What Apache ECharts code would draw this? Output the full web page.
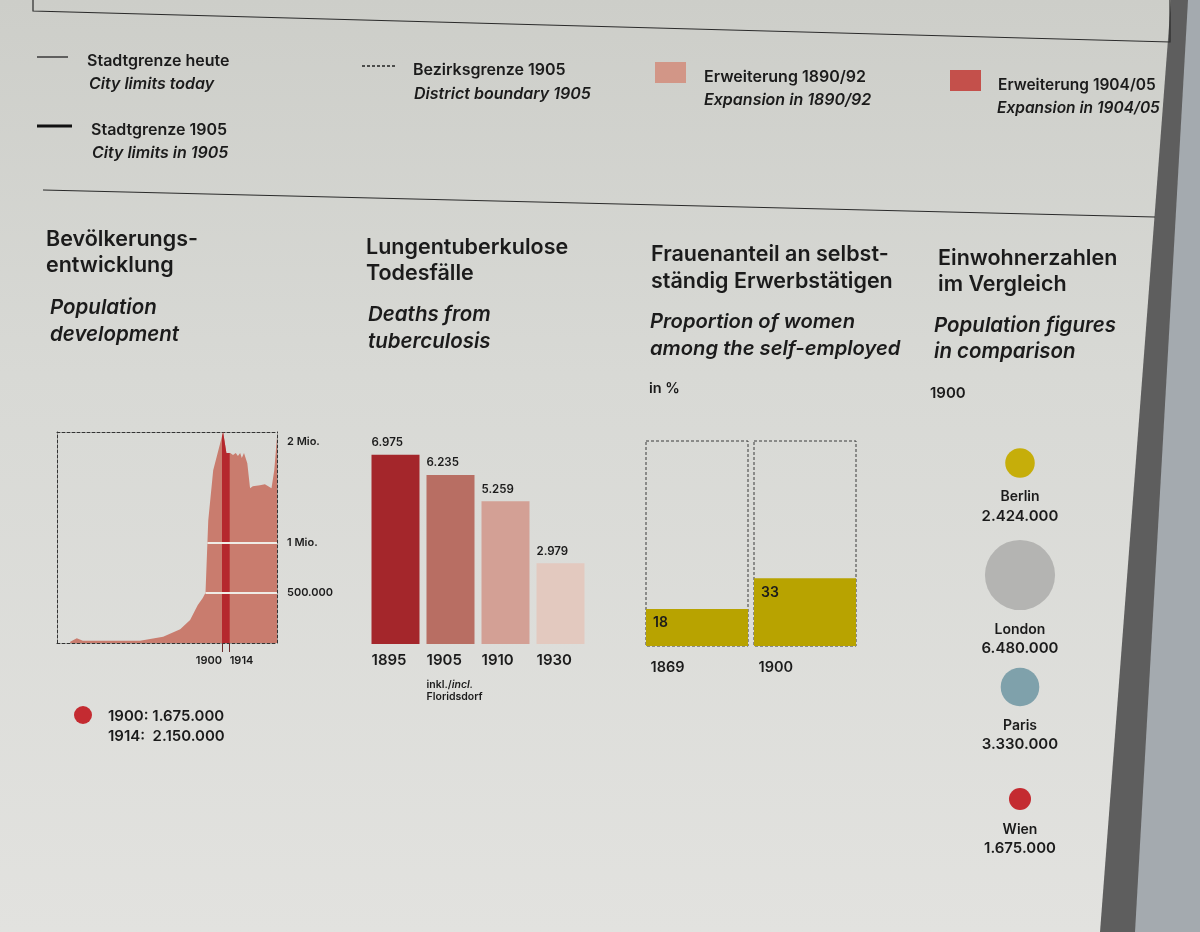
<!DOCTYPE html>
<html><head><meta charset="utf-8">
<script src="https://cdn.jsdelivr.net/npm/echarts@6/dist/echarts.min.js"></script>
<style>
html,body{margin:0;padding:0;width:1200px;height:932px;overflow:hidden;
background:linear-gradient(180deg,#cdcec9 0%,#d8d9d5 40%,#e2e2df 100%);}
#c{width:1200px;height:932px}
</style>
</head><body><div id="c"></div><script>
// ---- Population development (Vienna) ----
const popYears  = [1624,1636,1647,1700,1751,1793,1824,1842,1856,1865,1870,1875,1884,1902,1908,1915,1920,1925,1929,1933,1936,1940,1946,1951,1956,1969,1978,1990,1995,2000];
const popValues = [13000,47000,23000,22000,23000,63000,136000,229000,378000,448000,500000,1220000,1720000,2100000,1890000,1890000,1870000,1890000,1860000,1890000,1840000,1890000,1790000,1540000,1560000,1570000,1580000,1540000,1720000,2050000];
const highlightYears = [1900, 1914];
const popTickValues = [500000, 1000000, 2000000];
const popTickLabels = ['500.000', '1 Mio.', '2 Mio.'];
const popNotes = ['1900: 1.675.000', '1914:  2.150.000'];

// ---- Deaths from tuberculosis ----
const tbYears  = ['1895','1905','1910','1930'];
const tbDeaths = [6975, 6235, 5259, 2979];

// ---- Proportion of women among the self-employed (in %) ----
const womenYears = ['1869','1900'];
const womenShare = [18, 33];

// ---- Population figures in comparison, 1900 ----
const cities  = ['Berlin','London','Paris','Wien'];
const cityPop = [2424000, 6480000, 3330000, 1675000];

// ---------------------------------------------------------------
const FONT = 'Inter, "Liberation Sans", sans-serif';
const INK = '#1b1b1b';
const fmt = n => String(n).replace(/\B(?=(\d{3})+(?!\d))/g, '.');

function interp(year){
  for (let i = 1; i < popYears.length; i++){
    if (year <= popYears[i]){
      const t = (year - popYears[i-1]) / (popYears[i] - popYears[i-1]);
      return popValues[i-1] + t * (popValues[i] - popValues[i-1]);
    }
  }
  return popValues[popValues.length-1];
}
function firstCrossing(v){
  for (let i = 1; i < popValues.length; i++){
    if (popValues[i-1] < v && popValues[i] >= v){
      const t = (v - popValues[i-1]) / (popValues[i] - popValues[i-1]);
      return popYears[i-1] + t * (popYears[i] - popYears[i-1]);
    }
  }
  return popYears[0];
}
const popData = popYears.map((y,i) => [y, popValues[i]]);
const bandData = [[highlightYears[0], interp(highlightYears[0])]]
  .concat(popData.filter(d => d[0] > highlightYears[0] && d[0] < highlightYears[1]))
  .concat([[highlightYears[1], interp(highlightYears[1])]]);
const refLines = [popTickValues[0], popTickValues[1]].map(v => [
  {coord: [firstCrossing(v), v]}, {coord: [popYears[popYears.length-1], v]}
]);

const tbColors   = ['#a4262b','#b86e63','#d3a095','#e3c9bf'];
const cityColors = ['#c6ae0a','#b4b4b2','#7fa1ab','#c42b31'];
const dashed = {color:'#333', width:1, type:[3,2]};

function T(x, y, text, size, italic, weight){
  return {type:'text', x:x, y:y, silent:true, z:10,
    style:{text:text, fill:INK, align:'left', verticalAlign:'middle',
      font:(italic?'italic ':'') + (weight||600) + ' ' + size + 'px ' + FONT}};
}

const graphics = [
  // panel edge and frame lines
  {type:'polygon', silent:true, shape:{points:[[1171,0],[1200,0],[1200,932],[1100,932]]}, style:{fill:'#5e5e5e'}},
  {type:'polygon', silent:true, shape:{points:[[1188,0],[1200,0],[1200,932],[1135,932]]}, style:{fill:'#a4aaaf'}},
  {type:'polyline', silent:true, shape:{points:[[33,0],[33,11],[1170,42],[1170,0]]}, style:{stroke:'#2a2a2a', lineWidth:1.2, fill:null}},
  {type:'line', silent:true, shape:{x1:43,y1:190,x2:1155,y2:217}, style:{stroke:'#2a2a2a', lineWidth:1.2}},
  // map legend
  {type:'line', silent:true, shape:{x1:37,y1:57,x2:68,y2:57}, style:{stroke:'#222', lineWidth:1.3}},
  T(87,61,'Stadtgrenze heute',16), T(89,84,'City limits today',16,true),
  {type:'line', silent:true, shape:{x1:37,y1:126,x2:72,y2:126}, style:{stroke:'#111', lineWidth:3}},
  T(91,130,'Stadtgrenze 1905',16), T(92,153,'City limits in 1905',16,true),
  {type:'line', silent:true, shape:{x1:362,y1:66,x2:397,y2:66}, style:{stroke:'#222', lineWidth:1.3, lineDash:[3,2]}},
  T(413,70,'Bezirksgrenze 1905',16), T(414,94,'District boundary 1905',16,true),
  {type:'rect', silent:true, shape:{x:655,y:62,width:31,height:21}, style:{fill:'#d29687'}},
  T(704,77,'Erweiterung 1890/92',16), T(704,100,'Expansion in 1890/92',16,true),
  {type:'rect', silent:true, shape:{x:950,y:70,width:31,height:21}, style:{fill:'#c4504b'}},
  T(998,85,'Erweiterung 1904/05',15.5), T(997,108,'Expansion in 1904/05',15.5,true),
  // headings
  T(46,240,'Bevölkerungs-',21.5), T(46,266,'entwicklung',21.5),
  T(50,308,'Population',20.5,true), T(50,335,'development',20.5,true),
  T(366,248,'Lungentuberkulose',21.5), T(366,274,'Todesfälle',21.5),
  T(368,315,'Deaths from',20.5,true), T(368,342,'tuberculosis',20.5,true),
  T(651,255,'Frauenanteil an selbst-',21.5), T(651,282,'ständig Erwerbstätigen',21.5),
  T(650,322,'Proportion of women',20.2,true), T(650,349,'among the self-employed',20.2,true),
  T(938,259,'Einwohnerzahlen',21.5), T(938,285,'im Vergleich',21.5),
  T(934,326,'Population figures',20.5,true), T(934,352,'in comparison',20.5,true),
  // small captions
  T(649,389,'in %',14.5), T(930,393,'1900',15),
  {type:'circle', silent:true, shape:{cx:83,cy:715,r:9}, style:{fill:'#c42b31'}},
  T(108,716,popNotes[0],15), T(108,736,popNotes[1],15)
];

const chart = echarts.init(document.getElementById('c'), null, {renderer:'canvas'});
chart.setOption({
  animation:false,
  backgroundColor:'transparent',
  textStyle:{fontFamily:FONT, color:INK},
  graphic:graphics,
  grid:[
    {left:57, top:432, width:220, height:211},
    {left:368, top:427, width:220, height:217},
    {left:643, top:441, width:216, height:205},
    {left:960, top:407, width:120, height:448}
  ],
  xAxis:[
    {gridIndex:0, type:'value', min:1600, max:2000, position:'bottom',
      axisLine:{show:true, onZero:false, lineStyle:dashed},
      axisTick:{show:true, customValues:[highlightYears[0]], length:9, lineStyle:{color:'#6a2a2a'}},
      axisLabel:{customValues:[highlightYears[0]], align:'right', margin:12, fontSize:11, fontWeight:600, color:INK,
        formatter:v => String(v)},
      splitLine:{show:false}},
    {gridIndex:0, type:'value', min:1600, max:2000, position:'bottom',
      axisLine:{show:false},
      axisTick:{show:true, customValues:[highlightYears[1]], length:9, lineStyle:{color:'#6a2a2a'}},
      axisLabel:{customValues:[highlightYears[1]], align:'left', margin:12, fontSize:11, fontWeight:600, color:INK,
        formatter:v => String(v)},
      splitLine:{show:false}},
    {gridIndex:0, type:'value', min:1600, max:2000, position:'top',
      axisLine:{show:true, onZero:false, lineStyle:dashed},
      axisTick:{show:false}, axisLabel:{show:false}, splitLine:{show:false}},
    {gridIndex:1, type:'category', data:tbYears, show:false},
    {gridIndex:1, type:'value', min:0, max:tbYears.length, position:'bottom',
      axisLine:{show:false}, axisTick:{show:false}, splitLine:{show:false},
      axisLabel:{customValues:tbYears.map((_,i)=>i+0.065), align:'left', verticalAlign:'top', margin:6,
        formatter:v => {
          const y = tbYears[Math.floor(v)];
          return y === '1905' ? '{y|'+y+'}\n{s|inkl./}{si|incl.}\n{s3|Floridsdorf}' : '{y|'+y+'}';
        },
        rich:{
          y:{fontSize:15, fontWeight:600, lineHeight:20, color:INK, fontFamily:FONT},
          s:{fontSize:10.5, fontWeight:600, lineHeight:20, color:INK, fontFamily:FONT, verticalAlign:'bottom'},
          si:{fontSize:10.5, fontWeight:600, fontStyle:'italic', lineHeight:20, color:INK, fontFamily:FONT, verticalAlign:'bottom'},
          s3:{fontSize:10.5, fontWeight:600, lineHeight:13, color:INK, fontFamily:FONT}
        }}},
    {gridIndex:2, type:'category', data:womenYears, show:false},
    {gridIndex:2, type:'value', min:0, max:womenYears.length, position:'bottom',
      axisLine:{show:false}, axisTick:{show:false}, splitLine:{show:false},
      axisLabel:{customValues:womenYears.map((_,i)=>i+0.07), align:'left', margin:14,
        formatter:v => womenYears[Math.floor(v)], fontSize:14.5, fontWeight:600, color:INK}},
    {gridIndex:3, type:'value', min:-1, max:1, show:false}
  ],
  yAxis:[
    {gridIndex:0, type:'value', min:0, max:2100000, position:'right',
      axisLine:{show:true, onZero:false, lineStyle:dashed}, axisTick:{show:false}, splitLine:{show:false},
      axisLabel:{customValues:popTickValues, margin:10, fontSize:11, fontWeight:600, color:INK,
        formatter:v => popTickLabels[popTickValues.indexOf(v)]}},
    {gridIndex:0, type:'value', min:0, max:2100000, position:'left',
      axisLine:{show:true, onZero:false, lineStyle:dashed}, axisTick:{show:false},
      axisLabel:{show:false}, splitLine:{show:false}},
    {gridIndex:1, type:'value', min:0, max:8000, show:false},
    {gridIndex:2, type:'value', min:0, max:100, show:false},
    {gridIndex:3, type:'category', data:cities, inverse:true, show:false}
  ],
  series:[
    {type:'line', name:'Bevölkerung', xAxisIndex:0, yAxisIndex:0, data:popData,
      symbol:'none', lineStyle:{width:0}, itemStyle:{color:'#c97c6e'},
      areaStyle:{color:'#c97c6e', opacity:1}},
    {type:'line', name:'1900–1914', xAxisIndex:0, yAxisIndex:0, data:bandData,
      symbol:'none', lineStyle:{width:0}, itemStyle:{color:'#b5282d'},
      areaStyle:{color:'#b5282d', opacity:1},
      markLine:{silent:true, symbol:'none', label:{show:false},
        lineStyle:{color:'#efece6', width:2, type:'solid'}, data:refLines}},
    {type:'bar', name:'Todesfälle', xAxisIndex:3, yAxisIndex:2, barWidth:48,
      data:tbDeaths.map((v,i)=>({value:v, itemStyle:{color:tbColors[i]}})),
      label:{show:true, position:[0,-6], align:'left', verticalAlign:'bottom',
        formatter:p => fmt(p.value), fontSize:11.5, fontWeight:600, color:INK}},
    {type:'bar', name:'Frauenanteil', xAxisIndex:5, yAxisIndex:3, barWidth:102,
      data:womenShare, itemStyle:{color:'#b8a300'},
      showBackground:true,
      backgroundStyle:{color:'rgba(0,0,0,0)', borderColor:'#3a3a3a', borderWidth:1, borderType:[3,2]},
      label:{show:true, position:'insideTopLeft', distance:7, fontSize:14, fontWeight:600, color:INK}},
    {type:'scatter', name:'Einwohner 1900', xAxisIndex:7, yAxisIndex:4,
      data:cities.map((c,i)=>({name:c, value:[0, c, cityPop[i]]})),
      symbolSize:v => 5.3 + v[2] / 1e5,
      itemStyle:{color:p => cityColors[p.dataIndex], opacity:1},
      label:{show:true, position:'bottom', distance:10, align:'center',
        formatter:p => '{n|' + p.name + '}\n{v|' + fmt(p.value[2]) + '}',
        rich:{
          n:{fontSize:14, fontWeight:600, lineHeight:19, color:INK, fontFamily:FONT, align:'center'},
          v:{fontSize:15, fontWeight:600, lineHeight:19, color:INK, fontFamily:FONT, align:'center'}
        }}}
  ]
});
</script></body></html>
